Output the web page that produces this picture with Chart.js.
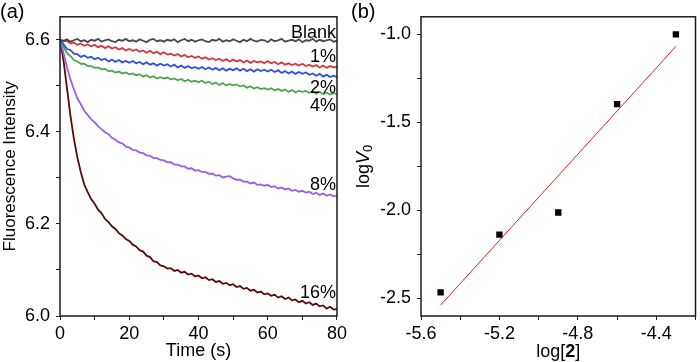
<!DOCTYPE html>
<html>
<head>
<meta charset="utf-8">
<script src="https://cdn.jsdelivr.net/npm/chart.js@4.4.1/dist/chart.umd.min.js"></script>
<style>
  html, body { margin: 0; padding: 0; background: #fff; }
  #wrap { position: relative; width: 700px; height: 362px; }
  canvas { position: absolute; top: 0; }
  #chartA { left: 0; }
  #chartB { left: 350px; }
</style>
</head>
<body>
<div id="wrap">
  <canvas id="chartA" width="350" height="362"></canvas>
  <canvas id="chartB" width="350" height="362"></canvas>
</div>
<script>
// (a) fluorescence traces, one value per second
const times = [0,1,2,3,4,5,6,7,8,9,10,11,12,13,14,15,16,17,18,19,20,21,22,23,24,25,26,27,28,29,
  30,31,32,33,34,35,36,37,38,39,40,41,42,43,44,45,46,47,48,49,50,51,52,53,54,55,56,57,58,59,
  60,61,62,63,64,65,66,67,68,69,70,71,72,73,74,75,76,77,78,79,80];

const blank = [6.600,6.598,6.601,6.596,6.599,6.602,6.597,6.599,6.595,6.600,
  6.598,6.602,6.596,6.599,6.601,6.597,6.595,6.600,6.598,6.602,
  6.597,6.599,6.596,6.601,6.598,6.595,6.600,6.602,6.597,6.599,
  6.596,6.600,6.598,6.601,6.595,6.599,6.602,6.597,6.600,6.596,
  6.599,6.601,6.597,6.595,6.600,6.598,6.602,6.596,6.599,6.597,
  6.601,6.598,6.595,6.600,6.597,6.602,6.598,6.596,6.600,6.599,
  6.595,6.601,6.597,6.599,6.602,6.596,6.598,6.600,6.597,6.601,
  6.595,6.599,6.598,6.602,6.596,6.600,6.597,6.599,6.601,6.596,
  6.598];

const pct1 = [6.600,6.597,6.598,6.592,6.594,6.589,6.592,6.587,6.590,6.586,
  6.589,6.584,6.587,6.582,6.586,6.581,6.584,6.579,6.582,6.577,
  6.580,6.576,6.579,6.574,6.577,6.572,6.576,6.571,6.574,6.569,
  6.573,6.568,6.570,6.566,6.569,6.564,6.567,6.562,6.565,6.561,
  6.564,6.559,6.562,6.557,6.560,6.556,6.559,6.554,6.558,6.553,
  6.557,6.553,6.556,6.551,6.555,6.550,6.554,6.551,6.553,6.549,
  6.554,6.549,6.552,6.547,6.551,6.546,6.549,6.545,6.548,6.544,
  6.548,6.543,6.546,6.542,6.545,6.540,6.544,6.539,6.543,6.540,
  6.541];

const pct2 = [6.600,6.591,6.580,6.578,6.570,6.569,6.563,6.566,6.561,6.563,
  6.558,6.561,6.556,6.559,6.553,6.557,6.552,6.556,6.551,6.554,
  6.550,6.554,6.549,6.552,6.547,6.551,6.546,6.549,6.544,6.548,
  6.544,6.547,6.542,6.546,6.540,6.544,6.539,6.543,6.538,6.541,
  6.537,6.541,6.536,6.540,6.535,6.539,6.534,6.538,6.533,6.537,
  6.534,6.538,6.533,6.537,6.532,6.536,6.531,6.536,6.532,6.535,
  6.531,6.535,6.530,6.534,6.528,6.532,6.527,6.531,6.526,6.530,
  6.526,6.529,6.524,6.527,6.522,6.526,6.520,6.524,6.519,6.522,
  6.519];

const pct4 = [6.600,6.585,6.571,6.565,6.556,6.553,6.548,6.548,6.543,6.543,
  6.539,6.540,6.536,6.537,6.532,6.533,6.529,6.531,6.527,6.529,
  6.525,6.527,6.523,6.525,6.520,6.523,6.518,6.521,6.516,6.519,
  6.516,6.518,6.514,6.516,6.512,6.515,6.510,6.513,6.509,6.511,
  6.508,6.511,6.506,6.509,6.504,6.507,6.502,6.506,6.501,6.504,
  6.501,6.503,6.499,6.501,6.496,6.499,6.494,6.497,6.493,6.495,
  6.492,6.495,6.490,6.493,6.489,6.492,6.487,6.491,6.486,6.489,
  6.487,6.489,6.485,6.488,6.483,6.487,6.482,6.485,6.481,6.484,
  6.482];

const pct8 = [6.600,6.572,6.541,6.514,6.493,6.473,6.460,6.446,6.437,6.427,
  6.421,6.412,6.406,6.399,6.395,6.387,6.383,6.377,6.375,6.368,
  6.366,6.361,6.360,6.355,6.354,6.349,6.348,6.343,6.343,6.339,
  6.338,6.334,6.334,6.329,6.329,6.325,6.325,6.320,6.321,6.316,
  6.317,6.313,6.313,6.309,6.309,6.305,6.306,6.301,6.303,6.304,
  6.299,6.296,6.296,6.292,6.292,6.288,6.290,6.285,6.286,6.283,
  6.285,6.280,6.282,6.277,6.279,6.275,6.277,6.272,6.274,6.270,
  6.272,6.268,6.270,6.265,6.268,6.263,6.266,6.261,6.264,6.260,
  6.262];

const pct16 = [6.600,6.556,6.496,6.436,6.386,6.345,6.313,6.286,6.269,6.254,
  6.244,6.231,6.223,6.211,6.204,6.195,6.189,6.180,6.175,6.167,
  6.163,6.155,6.151,6.143,6.140,6.131,6.128,6.119,6.117,6.110,
  6.108,6.103,6.104,6.098,6.100,6.094,6.096,6.090,6.092,6.086,
  6.088,6.082,6.084,6.078,6.080,6.074,6.076,6.070,6.072,6.067,
  6.069,6.063,6.065,6.059,6.061,6.055,6.057,6.051,6.053,6.047,
  6.049,6.044,6.046,6.040,6.043,6.037,6.040,6.034,6.036,6.030,
  6.033,6.027,6.030,6.024,6.027,6.021,6.023,6.016,6.020,6.014,
  6.015];

const seriesNames = ["Blank", "1%", "2%", "4%", "8%", "16%"];
const aXTicks = [0, 10, 20, 30, 40, 50, 60, 70, 80];
const aYTicks = [6.0, 6.1, 6.2, 6.3, 6.4, 6.5, 6.6];

// (b) log V0 against log[2], with the fitted line's end points
const logConc = [-5.5, -5.2, -4.9, -4.6, -4.3];
const logV0 = [-2.466, -2.138, -2.012, -1.396, -1.0];
const fitX = [-5.5, -4.3];
const fitY = [-2.538, -1.068];
const bXTicks = [-5.6, -5.4, -5.2, -5.0, -4.8, -4.6, -4.4, -4.2];
const bYTicks = [-2.5, -2.25, -2.0, -1.75, -1.5, -1.25, -1.0];

const FONT = "'Liberation Sans', Arial, sans-serif";
const seriesColors = ["#4a4a4a", "#d23a3a", "#2f4fe0", "#4ea64e", "#9b5fe3", "#5a0a0a"];

const frame = {
  id: "frame",
  afterDraw(chart) {
    const { ctx, chartArea: a } = chart;
    ctx.save();
    ctx.strokeStyle = "#1a1a1a";
    ctx.lineWidth = 1.5;
    ctx.strokeRect(a.left, a.top, a.right - a.left, a.bottom - a.top);
    ctx.restore();
  }
};

const useTicks = list => scale => { scale.ticks = list.map(v => ({ value: v })); };

const curveLabels = {
  id: "curveLabels",
  afterDraw(chart) {
    const { ctx, chartArea: a, scales } = chart;
    const spots = [6.614, 6.563, 6.496, 6.457, 6.285, 6.049];
    ctx.save();
    ctx.fillStyle = "#000";
    ctx.font = "18px " + FONT;
    ctx.textAlign = "right";
    ctx.textBaseline = "middle";
    spots.forEach((v, i) => ctx.fillText(seriesNames[i], a.right - 1, scales.y.getPixelForValue(v)));
    ctx.textAlign = "left";
    ctx.textBaseline = "alphabetic";
    ctx.font = "20px " + FONT;
    ctx.fillText("(a)", 0, 18);
    ctx.restore();
  }
};

const tickFont = { family: FONT, size: 18 };
const axisGrid = { drawOnChartArea: false, drawTicks: true, tickLength: 4, tickColor: "#222" };

new Chart(document.getElementById("chartA"), {
  type: "line",
  data: {
    labels: times,
    datasets: [blank, pct1, pct2, pct4, pct8, pct16].map((vals, i) => ({
      label: seriesNames[i],
      data: vals,
      borderColor: seriesColors[i],
      borderWidth: 1.8,
      pointRadius: 0,
      tension: 0
    }))
  },
  options: {
    responsive: false,
    animation: false,
    layout: { padding: { top: 15, right: 10, left: 0, bottom: 0 } },
    plugins: { legend: { display: false }, tooltip: { enabled: false } },
    scales: {
      x: {
        type: "linear",
        min: 0,
        max: 80,
        afterFit(scale) { scale.height = 46; },
        afterBuildTicks: useTicks(aXTicks),
        border: { display: false },
        grid: axisGrid,
        ticks: {
          autoSkip: false,
          maxRotation: 0,
          padding: 3,
          color: "#000",
          font: tickFont,
          callback: v => (Math.round(v) % 20 === 0 ? String(Math.round(v)) : "")
        },
        title: { display: true, text: "Time (s)", color: "#000", font: tickFont, padding: { top: 0, bottom: 0 } }
      },
      y: {
        min: 6.0,
        max: 6.65,
        afterFit(scale) { scale.width = 60; },
        afterBuildTicks: useTicks(aYTicks),
        border: { display: false },
        grid: axisGrid,
        ticks: {
          padding: 6,
          color: "#000",
          font: tickFont,
          callback: v => (Math.round(v * 10) % 2 === 0 ? v.toFixed(1) : "")
        },
        title: { display: true, text: "Fluorescence Intensity", color: "#000", font: { family: FONT, size: 17 }, padding: { top: 0, bottom: 0 } }
      }
    }
  },
  plugins: [frame, curveLabels]
});

const richTitles = {
  id: "richTitles",
  afterDraw(chart) {
    const { ctx, chartArea: a } = chart;
    ctx.save();
    ctx.fillStyle = "#000";

    // x title: log[2] with a bold 2
    const xParts = [["log[", "18px " + FONT], ["2", "bold 18px " + FONT], ["]", "18px " + FONT]];
    let total = 0;
    xParts.forEach(p => { ctx.font = p[1]; total += ctx.measureText(p[0]).width; });
    let x = (a.left + a.right) / 2 - total / 2;
    ctx.textBaseline = "alphabetic";
    xParts.forEach(p => { ctx.font = p[1]; ctx.fillText(p[0], x, 357); x += ctx.measureText(p[0]).width; });

    // y title: log V0, italic V, subscript 0
    const yParts = [["log", "18px " + FONT, 0], ["V", "italic 18px " + FONT, 0], ["0", "13px " + FONT, 4]];
    total = 0;
    yParts.forEach(p => { ctx.font = p[1]; total += ctx.measureText(p[0]).width; });
    ctx.translate(14, (a.top + a.bottom) / 2);
    ctx.rotate(-Math.PI / 2);
    ctx.textBaseline = "middle";
    x = -total / 2;
    yParts.forEach(p => { ctx.font = p[1]; ctx.fillText(p[0], x, p[2]); x += ctx.measureText(p[0]).width; });
    ctx.restore();

    ctx.save();
    ctx.fillStyle = "#000";
    ctx.font = "20px " + FONT;
    ctx.fillText("(b)", 1, 18);
    ctx.restore();
  }
};

new Chart(document.getElementById("chartB"), {
  type: "scatter",
  data: {
    datasets: [
      {
        label: "log V0",
        data: logConc.map((v, i) => ({ x: v, y: logV0[i] })),
        pointStyle: "rect",
        pointRadius: 4.5,
        backgroundColor: "#000",
        borderColor: "#000",
        borderWidth: 0
      },
      {
        label: "fit",
        data: fitX.map((v, i) => ({ x: v, y: fitY[i] })),
        showLine: true,
        borderColor: "#e02020",
        borderWidth: 1,
        pointRadius: 0
      }
    ]
  },
  options: {
    responsive: false,
    animation: false,
    layout: { padding: { top: 15, right: 1, left: 0, bottom: 0 } },
    plugins: { legend: { display: false }, tooltip: { enabled: false } },
    scales: {
      x: {
        type: "linear",
        min: -5.6,
        max: -4.2,
        afterFit(scale) { scale.height = 46; },
        afterBuildTicks: useTicks(bXTicks),
        border: { display: false },
        grid: axisGrid,
        ticks: {
          autoSkip: false,
          maxRotation: 0,
          padding: 3,
          color: "#000",
          font: tickFont,
          callback: v => (Math.round(v * 5) % 2 === 0 ? v.toFixed(1) : "")
        }
      },
      y: {
        min: -2.6,
        max: -0.9,
        afterFit(scale) { scale.width = 71; },
        afterBuildTicks: useTicks(bYTicks),
        border: { display: false },
        grid: axisGrid,
        ticks: {
          padding: 6,
          color: "#000",
          font: tickFont,
          callback: v => (Math.abs(v * 2 - Math.round(v * 2)) < 1e-6 ? v.toFixed(1) : "")
        }
      }
    }
  },
  plugins: [frame, richTitles]
});
</script>
</body>
</html>
